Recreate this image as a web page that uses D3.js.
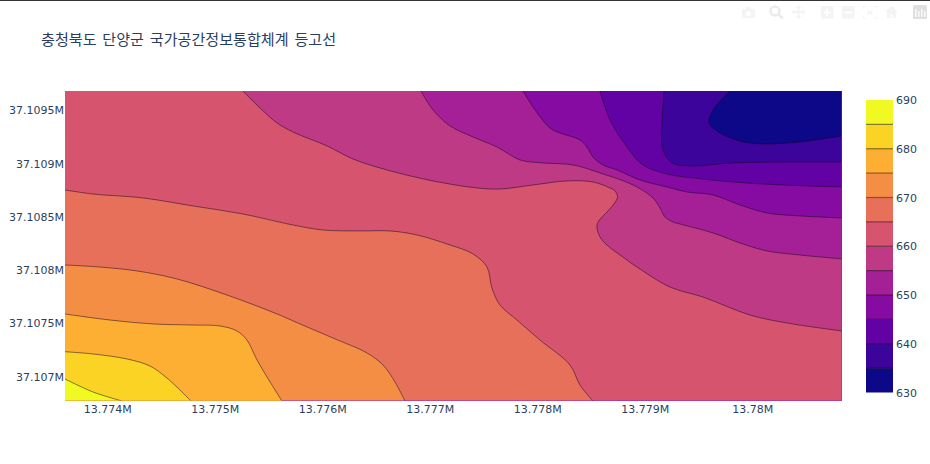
<!DOCTYPE html>
<html><head><meta charset="utf-8">
<script src="https://cdn.jsdelivr.net/npm/d3@7"></script>
<style>
html,body{margin:0;padding:0;background:#fff;overflow:hidden}
text{font-family:"DejaVu Sans",Verdana,sans-serif;font-size:11px;fill:#2a3f5f}
.title{font-family:"Noto Sans CJK KR","Open Sans",sans-serif;font-size:15.1px;word-spacing:2.4px;fill:#2a3f5f}
</style></head><body><div id="chart"></div>
<script>
const title = "충청북도 단양군 국가공간정보통합체계 등고선";
const xTicks = [13774000,13775000,13776000,13777000,13778000,13779000,13780000];
const yTicks = [37107000,37107500,37108000,37108500,37109000,37109500];
const zTicks = [630,640,650,660,670,680,690];
const xDomain = [13773607,13780834];
const yDomain = [37106765,37109678];
const zLevels = [630,635,640,645,650,655,660,665,670,675,680,685,690];
const plasma = ["#0d0887","#46039f","#7201a8","#9c179e","#bd3786","#d8576b","#ed7953","#fb9f3a","#fdca26","#f0f921"];

// isolines, [x, y] in map metres
const iso635 = [[13779792,37109678],[13779634,37109500],[13779597,37109378],[13779699,37109284],[13779913,37109199],[13780136,37109180],[13780444,37109199],[13780834,37109256]];
const iso640 = [[13779178,37109678],[13779160,37109378],[13779169,37109124],[13779253,37109002],[13779420,37108974],[13779820,37109002],[13780285,37109011],[13780834,37109011]];
const iso645 = [[13778583,37109678],[13778676,37109406],[13778834,37109152],[13778983,37108983],[13779206,37108898],[13779448,37108861],[13779820,37108823],[13780285,37108795],[13780834,37108776]];
const iso650 = [[13777867,37109678],[13777960,37109528],[13778118,37109331],[13778211,37109284],[13778397,37109218],[13778462,37109152],[13778518,37109058],[13778611,37108983],[13778741,37108936],[13778955,37108842],[13779206,37108776],[13779392,37108729],[13779634,37108701],[13779885,37108607],[13780136,37108532],[13780444,37108504],[13780834,37108485]];
const iso655 = [[13776918,37109678],[13777030,37109500],[13777188,37109350],[13777402,37109246],[13777625,37109152],[13777839,37109030],[13778053,37109002],[13778332,37108983],[13778583,37108908],[13778890,37108795],[13779076,37108673],[13779141,37108579],[13779188,37108494],[13779262,37108447],[13779327,37108428],[13779634,37108344],[13779885,37108250],[13780136,37108175],[13780444,37108137],[13780834,37108100]];
const iso660 = [[13775262,37109678],[13775420,37109519],[13775579,37109378],[13775727,37109293],[13776044,37109162],[13776286,37109039],[13776602,37108936],[13777030,37108833],[13777439,37108767],[13777653,37108757],[13777960,37108795],[13778276,37108833],[13778518,37108823],[13778676,37108767],[13778723,37108739],[13778746,37108682],[13778713,37108616],[13778648,37108541],[13778565,37108447],[13778555,37108391],[13778602,37108278],[13778834,37108090],[13778927,37108024],[13779234,37107836],[13779541,37107742],[13779978,37107573],[13780323,37107498],[13780834,37107423]];
const iso665 = [[13773607,37108748],[13773867,37108710],[13774332,37108673],[13774797,37108598],[13775262,37108522],[13775727,37108419],[13776006,37108372],[13776351,37108363],[13776630,37108363],[13776881,37108325],[13777188,37108231],[13777402,37108147],[13777532,37108024],[13777578,37107827],[13777653,37107667],[13777811,37107526],[13778025,37107338],[13778304,37107103],[13778397,37106915],[13778518,37106765]];
const iso670 = [[13773607,37108043],[13773932,37108024],[13774276,37107987],[13774648,37107912],[13775113,37107761],[13775579,37107583],[13775793,37107489],[13776099,37107357],[13776416,37107216],[13776565,37107103],[13776676,37106944],[13776769,37106765]];
const iso675 = [[13773607,37107583],[13774025,37107526],[13774425,37107489],[13774797,37107479],[13775048,37107470],[13775206,37107423],[13775299,37107338],[13775393,37107150],[13775486,37106991],[13775625,37106765]];
const iso680 = [[13773607,37107228],[13773867,37107207],[13774183,37107160],[13774397,37107094],[13774555,37106981],[13774779,37106765]];
const iso685 = [[13773607,37106972],[13773867,37106850],[13774137,37106765]];
const isolines = [iso635,iso640,iso645,iso650,iso655,iso660,iso665,iso670,iso675,iso680,iso685];

const W=930,H=464, L=65,R=842,T=91,B=401;
const x=d3.scaleLinear(xDomain,[L,R]), y=d3.scaleLinear(yDomain,[B,T]);
const cz=d3.scaleLinear(d3.extent(zLevels),[392.5,100]);
const ramp=d3.scaleLinear(plasma.map((_,i)=>i/(plasma.length-1)),plasma).interpolate(d3.interpolateRgb);
const nb=zLevels.length-1;
const bandColor=i=>ramp(i/(nb-1));
const LINE="rgba(20,5,30,0.5)";

const svg=d3.select("#chart").append("svg").attr("width",W).attr("height",H).style("display","block");
svg.append("rect").attr("width",W).attr("height",1).attr("fill","#333");

// modebar
const mb=svg.append("g").attr("fill","#f4f4f4");
mb.append("rect").attr("x",742).attr("y",9).attr("width",13).attr("height",9).attr("rx",1.5);
mb.append("rect").attr("x",746).attr("y",7).attr("width",5).attr("height",3);
mb.append("circle").attr("cx",748.5).attr("cy",13.5).attr("r",2.5).attr("fill","#fff");
mb.append("circle").attr("cx",775).attr("cy",11).attr("r",4.5).attr("fill","none").attr("stroke","#ebebeb").attr("stroke-width",2.5);
mb.append("line").attr("x1",778).attr("y1",14).attr("x2",783).attr("y2",18.5).attr("stroke","#ebebeb").attr("stroke-width",2.5);
mb.append("path").attr("d","M798.5 5l3 3h-2v3h3v-2l3 3-3 3v-2h-3v3h2l-3 3-3-3h2v-3h-3v2l-3-3 3-3v2h3v-3h-2z");
[[821],[842]].forEach(([a],i)=>{
  mb.append("rect").attr("x",a).attr("y",6).attr("width",12.5).attr("height",12.5).attr("rx",1);
  mb.append("rect").attr("x",a+2.5).attr("y",11.5).attr("width",7.5).attr("height",2).attr("fill","#fff");
  if(i==0) mb.append("rect").attr("x",a+5.2).attr("y",8.7).attr("width",2).attr("height",7.5).attr("fill","#fff");
});
mb.append("path").attr("d","M863 6h3v1h-2v2h-1zM874 6h3v3h-1v-2h-2zM863 16h1v2h2v1h-3zM876 16h1v3h-3v-1h2zM867 9l3 2.5 3-2.5-1.5 3.5 1.5 3-3-2-3 2 1.5-3z");
mb.append("path").attr("d","M891.5 6l6.5 6h-2v6h-3.5v-4h-2v4h-3.5v-6h-2z");
mb.append("rect").attr("x",913).attr("y",5).attr("width",14).attr("height",14).attr("rx",1.5).attr("fill","#dfdfdf");
[915,918,921,924].forEach((a,i)=>mb.append("rect").attr("x",a).attr("y",9+(i%2)*2).attr("width",1.6).attr("height",8-(i%2)*2).attr("fill","#f8f8f8"));

svg.append("text").attr("class","title").attr("x",41).attr("y",45).text(title);

svg.append("clipPath").attr("id","plot").append("rect").attr("x",L).attr("y",T).attr("width",R-L).attr("height",B-T);
const plot=svg.append("g").attr("clip-path","url(#plot)");
plot.append("rect").attr("x",L).attr("y",T).attr("width",R-L).attr("height",B-T).attr("fill",bandColor(0));

const curve=d3.line().x(d=>x(d[0])).y(d=>y(d[1])).curve(d3.curveCatmullRom.alpha(0.5));
// area above each level lies toward the lower left of its isoline
const regionPath=pts=>{
  const s=pts[0], e=pts[pts.length-1], c=[];
  if(e[0]>=xDomain[1]) c.push([xDomain[1],yDomain[0]]);
  c.push([xDomain[0],yDomain[0]]);
  if(s[1]>=yDomain[1]) c.push([xDomain[0],yDomain[1]]);
  return curve(pts)+c.map(p=>`L${x(p[0])},${y(p[1])}`).join("")+"Z";
};
plot.selectAll("path.band").data(isolines).join("path").attr("class","band")
  .attr("d",regionPath).attr("fill",(d,i)=>bandColor(i+1));

// edge seam along the bottom and right of the filled area
const seam=svg.append("g").attr("fill","none").attr("stroke-width",1);
seam.append("path").attr("d",`M${x(iso675[iso675.length-1][0])},${B-0.5}H${R-0.5}V${T}`).attr("stroke","#8f1fb5").attr("stroke-opacity",0.45);
seam.append("path").attr("d",`M${L},${B-0.5}H${x(iso675[iso675.length-1][0])}`).attr("stroke","#e8973a").attr("stroke-opacity",0.6);

plot.selectAll("path.iso").data(isolines).join("path").attr("class","iso")
  .attr("d",curve).attr("fill","none").attr("stroke",LINE).attr("stroke-width",1);

const xAxis=svg.append("g").attr("transform",`translate(0,${B})`).call(d3.axisBottom(x).tickValues(xTicks).tickSize(0).tickPadding(4).tickFormat(v=>(v/1e6)+"M"));
const yAxis=svg.append("g").attr("transform",`translate(${L},0.5)`).call(d3.axisLeft(y).tickValues(yTicks).tickSize(0).tickPadding(1).tickFormat(v=>(v/1e6)+"M"));
[xAxis,yAxis].forEach(a=>{a.select(".domain").remove();a.attr("font-family",null).attr("font-size",null);});

// colour bar
const cb=svg.append("g");
const cx0=866,cx1=893;
cb.selectAll("rect").data(d3.range(nb)).join("rect")
  .attr("x",cx0).attr("width",cx1-cx0)
  .attr("y",i=>cz(zLevels[i+1])).attr("height",i=>cz(zLevels[i])-cz(zLevels[i+1])+0.3)
  .attr("fill",i=>bandColor(i));
cb.selectAll("line").data(zLevels.slice(1,-1)).join("line")
  .attr("x1",cx0).attr("x2",cx1).attr("y1",d=>cz(d)).attr("y2",d=>cz(d))
  .attr("stroke","rgba(20,5,30,0.5)").attr("stroke-width",1.2);
cb.append("line").attr("x1",cx0).attr("x2",cx1).attr("y1",cz(630)).attr("y2",cz(630)).attr("stroke","#9a9ac0").attr("stroke-width",0.8);
const zAxis=svg.append("g").attr("transform",`translate(${cx1},0)`).call(d3.axisRight(cz).tickValues(zTicks).tickSize(0).tickPadding(3).tickFormat(d3.format("d")));
zAxis.select(".domain").remove();zAxis.attr("font-family",null).attr("font-size",null);
</script></body></html>
